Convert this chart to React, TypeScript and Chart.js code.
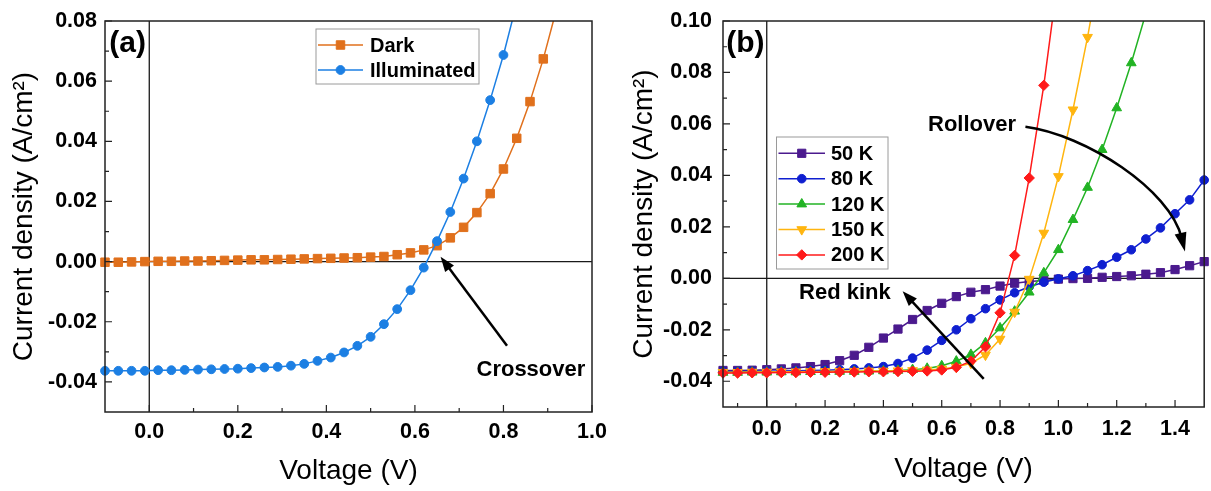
import React, { useEffect, useRef } from 'react';
import { Chart, registerables } from 'chart.js';
import { drawPoint } from 'chart.js/helpers';

Chart.register(...registerables);

const FONT = "'Liberation Sans', Arial, Helvetica, sans-serif";

// ---------- Panel (a): dark vs. illuminated J-V ----------
const voltageA = [
  -0.1, -0.07, -0.04, -0.01, 0.02, 0.05, 0.08, 0.11, 0.14, 0.17, 0.2, 0.23, 0.26, 0.29, 0.32, 0.35, 0.38,
  0.41, 0.44, 0.47, 0.5, 0.53, 0.56, 0.59, 0.62, 0.65, 0.68, 0.71, 0.74, 0.77, 0.8, 0.83, 0.86, 0.89, 0.92,
];
const darkJ = [
  -0.0002, -0.0002, -0.0001, 0.0, 0.0001, 0.0001, 0.0002, 0.0002, 0.0003, 0.0004, 0.0005, 0.0006, 0.0006,
  0.0007, 0.0008, 0.0009, 0.001, 0.0011, 0.0012, 0.0013, 0.0015, 0.0017, 0.0023, 0.0029, 0.0039, 0.0053,
  0.0079, 0.0114, 0.0163, 0.0226, 0.0308, 0.041, 0.0532, 0.0674, 0.084,
];
const illuminatedJ = [
  -0.0363, -0.0363, -0.0363, -0.0363, -0.0361, -0.0361, -0.036, -0.0359, -0.0358, -0.0357, -0.0356, -0.0354,
  -0.0352, -0.035, -0.0346, -0.034, -0.033, -0.0319, -0.0302, -0.028, -0.025, -0.0208, -0.0158, -0.0095,
  -0.002, 0.0068, 0.0165, 0.0276, 0.04, 0.0537, 0.0687, 0.086,
];
const xMajorA = [0, 0.2, 0.4, 0.6, 0.8, 1.0];
const xMinorA = [0.1, 0.3, 0.5, 0.7, 0.9];
const yMajorA = [-0.04, -0.02, 0, 0.02, 0.04, 0.06, 0.08];
const yMinorA = [-0.03, -0.01, 0.01, 0.03, 0.05, 0.07];

// ---------- Panel (b): illuminated J-V vs. temperature ----------
const voltageB = [
  -0.15, -0.1, -0.05, 0.0, 0.05, 0.1, 0.15, 0.2, 0.25, 0.3, 0.35, 0.4, 0.45, 0.5, 0.55, 0.6, 0.65, 0.7,
  0.75, 0.8, 0.85, 0.9, 0.95, 1.0, 1.05, 1.1, 1.15, 1.2, 1.25, 1.3, 1.35, 1.4, 1.45, 1.5,
];
const j50K = [
  -0.0358, -0.0358, -0.0357, -0.0355, -0.0352, -0.0348, -0.0343, -0.0335, -0.032, -0.0299, -0.0268, -0.0232,
  -0.0197, -0.016, -0.0125, -0.0097, -0.0071, -0.0054, -0.0044, -0.003, -0.0019, -0.0012, -0.0008, -0.0003,
  -0.0001, 0.0, 0.0004, 0.0007, 0.001, 0.0016, 0.0022, 0.0034, 0.0049, 0.0065,
];
const j80K = [
  -0.0362, -0.0362, -0.0361, -0.0361, -0.036, -0.0359, -0.0358, -0.0357, -0.0355, -0.0352, -0.0348, -0.0343,
  -0.0331, -0.031, -0.0279, -0.0241, -0.02, -0.0157, -0.0118, -0.0084, -0.0056, -0.0033, -0.0015, -0.0002,
  0.001, 0.003, 0.0053, 0.0082, 0.0111, 0.0153, 0.0196, 0.0251, 0.0305, 0.0382,
];
const j120K = [
  -0.0366, -0.0366, -0.0365, -0.0365, -0.0364, -0.0364, -0.0363, -0.0363, -0.0362, -0.0362, -0.0361, -0.036,
  -0.0358, -0.0355, -0.035, -0.034, -0.0322, -0.0296, -0.0251, -0.0193, -0.0128, -0.0054, 0.0021, 0.0111,
  0.0228, 0.0353, 0.05, 0.0662, 0.0837, 0.103,
];
const j150K = [
  -0.0365, -0.0365, -0.0364, -0.0364, -0.0363, -0.0363, -0.0362, -0.0362, -0.0361, -0.0361, -0.036, -0.036,
  -0.0359, -0.0358, -0.0356, -0.0352, -0.0345, -0.033, -0.0298, -0.0236, -0.0131, -0.0003, 0.0176, 0.0396,
  0.0655, 0.0937, 0.125,
];
const j200K = [
  -0.0368, -0.0368, -0.0367, -0.0367, -0.0366, -0.0366, -0.0365, -0.0365, -0.0364, -0.0364, -0.0363, -0.0363,
  -0.0362, -0.0361, -0.036, -0.0356, -0.0346, -0.0322, -0.0266, -0.0134, 0.0089, 0.039, 0.075, 0.118,
];
const xMajorB = [0, 0.2, 0.4, 0.6, 0.8, 1.0, 1.2, 1.4];
const xMinorB = [-0.1, 0.1, 0.3, 0.5, 0.7, 0.9, 1.1, 1.3];
const yMajorB = [-0.04, -0.02, 0, 0.02, 0.04, 0.06, 0.08, 0.1];
const yMinorB = [-0.03, -0.01, 0.01, 0.03, 0.05, 0.07, 0.09];

type SeriesSpec = {
  label: string;
  xs: number[];
  ys: number[];
  color: string;
  style: string;
  radius: number;
  rotation?: number;
  order: number;
};

type Note = { text: string; x: number; y: number; align: CanvasTextAlign; size: number };
type Arrow = { from: [number, number]; to: [number, number]; c1?: [number, number]; c2?: [number, number] };

type PanelSpec = {
  left: number;
  width: number;
  height: number;
  area: { left: number; right: number; top: number; bottom: number };
  x: [number, number];
  y: [number, number];
  xMajor: number[];
  xMinor: number[];
  yMajor: number[];
  yMinor: number[];
  xPad: number;
  yPad: number;
  xTitlePad: number;
  yTitlePad: number;
  series: SeriesSpec[];
  notes: Note[];
  arrows: Arrow[];
  legend: { x: number; y: number; w: number; h: number; s0: number; s1: number; textX: number; row0: number; step: number };
};

const panelA: PanelSpec = {
  left: 0,
  width: 625,
  height: 491,
  area: { left: 105, right: 592, top: 21, bottom: 412 },
  x: [-0.1, 1.0],
  y: [-0.05, 0.08],
  xMajor: xMajorA,
  xMinor: xMinorA,
  yMajor: yMajorA,
  yMinor: yMinorA,
  xPad: 7.5,
  yPad: 8,
  xTitlePad: 3,
  yTitlePad: 7,
  series: [
    { label: 'Dark', xs: voltageA, ys: darkJ, color: '#E0701C', style: 'rect', radius: 6, order: 1 },
    { label: 'Illuminated', xs: voltageA, ys: illuminatedJ, color: '#1C7FE3', style: 'circle', radius: 4.4, order: 0 },
  ],
  notes: [
    { text: '(a)', x: -0.0905, y: 0.0723, align: 'left', size: 30 },
    { text: 'Crossover', x: 0.862, y: -0.036, align: 'center', size: 22 },
  ],
  arrows: [{ from: [0.808, -0.028], to: [0.658, 0.0016] }],
  legend: { x: 316, y: 29, w: 163, h: 55, s0: 318, s1: 363, textX: 370, row0: 45, step: 25 },
};

const panelB: PanelSpec = {
  left: 605,
  width: 606,
  height: 491,
  area: { left: 118, right: 604, top: 21, bottom: 407 },
  x: [-0.15, 1.5],
  y: [-0.05, 0.1],
  xMajor: xMajorB,
  xMinor: xMinorB,
  yMajor: yMajorB,
  yMinor: yMinorB,
  xPad: 9,
  yPad: 11,
  xTitlePad: 5,
  yTitlePad: 22,
  series: [
    { label: '50 K', xs: voltageB, ys: j50K, color: '#4B1A8E', style: 'rect', radius: 5.8, order: 4 },
    { label: '80 K', xs: voltageB, ys: j80K, color: '#0F1FD0', style: 'circle', radius: 4.3, order: 3 },
    { label: '120 K', xs: voltageB, ys: j120K, color: '#22B324', style: 'triangle', radius: 5.6, order: 2 },
    { label: '150 K', xs: voltageB, ys: j150K, color: '#FFB50F', style: 'triangle', radius: 5.6, rotation: 180, order: 1 },
    { label: '200 K', xs: voltageB, ys: j200K, color: '#FF1A1A', style: 'rectRot', radius: 5.2, order: 0 },
  ],
  notes: [
    { text: '(b)', x: -0.139, y: 0.0911, align: 'left', size: 30 },
    { text: 'Rollover', x: 0.704, y: 0.0597, align: 'center', size: 22 },
    { text: 'Red kink', x: 0.268, y: -0.0057, align: 'center', size: 22 },
  ],
  arrows: [
    { from: [0.887, 0.0589], c1: [1.094, 0.0558], c2: [1.383, 0.0344], to: [1.434, 0.0104] },
    { from: [0.744, -0.0391], to: [0.466, -0.005] },
  ],
  legend: { x: 171.5, y: 137, w: 111.5, h: 132, s0: 173.5, s1: 220, textX: 226, row0: 153.3, step: 25.4 },
};

function arrowHead(ctx: CanvasRenderingContext2D, tx: number, ty: number, dx: number, dy: number, len: number, half: number) {
  const n = Math.hypot(dx, dy) || 1;
  const ux = dx / n;
  const uy = dy / n;
  const bx = tx - ux * len;
  const by = ty - uy * len;
  ctx.beginPath();
  ctx.moveTo(tx, ty);
  ctx.lineTo(bx - uy * half, by + ux * half);
  ctx.lineTo(bx + uy * half, by - ux * half);
  ctx.closePath();
  ctx.fill();
}

function decorPlugin(spec: PanelSpec) {
  return {
    id: 'decor',
    beforeDatasetsDraw(chart: any) {
      const { ctx, chartArea: a, scales } = chart;
      const x0 = scales.x.getPixelForValue(0);
      const y0 = scales.y.getPixelForValue(0);
      ctx.save();
      ctx.strokeStyle = '#1a1a1a';
      ctx.lineWidth = 1.3;
      ctx.beginPath();
      ctx.moveTo(a.left, y0);
      ctx.lineTo(a.right, y0);
      ctx.moveTo(x0, a.top);
      ctx.lineTo(x0, a.bottom);
      ctx.stroke();
      ctx.restore();
    },
    afterDatasetsDraw(chart: any) {
      const { ctx, chartArea: a, scales } = chart;
      const px = (v: number) => scales.x.getPixelForValue(v);
      const py = (v: number) => scales.y.getPixelForValue(v);
      ctx.save();

      // frame
      ctx.strokeStyle = '#222';
      ctx.lineWidth = 1.5;
      ctx.strokeRect(a.left, a.top, a.right - a.left, a.bottom - a.top);

      // inward ticks on bottom and left axes
      ctx.lineWidth = 1.2;
      ctx.beginPath();
      spec.xMajor.forEach((v) => { ctx.moveTo(px(v), a.bottom); ctx.lineTo(px(v), a.bottom - 7); });
      spec.xMinor.forEach((v) => { ctx.moveTo(px(v), a.bottom); ctx.lineTo(px(v), a.bottom - 4); });
      spec.yMajor.forEach((v) => { ctx.moveTo(a.left, py(v)); ctx.lineTo(a.left + 7, py(v)); });
      spec.yMinor.forEach((v) => { ctx.moveTo(a.left, py(v)); ctx.lineTo(a.left + 4, py(v)); });
      ctx.stroke();

      // legend
      const L = spec.legend;
      ctx.fillStyle = '#fff';
      ctx.fillRect(L.x, L.y, L.w, L.h);
      ctx.strokeStyle = '#9a9a9a';
      ctx.lineWidth = 1;
      ctx.strokeRect(L.x, L.y, L.w, L.h);
      spec.series.forEach((s, i) => {
        const yy = L.row0 + i * L.step;
        ctx.strokeStyle = s.color;
        ctx.fillStyle = s.color;
        ctx.lineWidth = 1.5;
        ctx.beginPath();
        ctx.moveTo(L.s0, yy);
        ctx.lineTo(L.s1, yy);
        ctx.stroke();
        ctx.lineWidth = 1;
        drawPoint(ctx, { pointStyle: s.style as any, rotation: s.rotation || 0, radius: s.radius, borderWidth: 1 } as any, (L.s0 + L.s1) / 2, yy);
        ctx.fillStyle = '#000';
        ctx.font = `bold 20px ${FONT}`;
        ctx.textAlign = 'left';
        ctx.textBaseline = 'middle';
        ctx.fillText(s.label, L.textX, yy + 1);
      });

      // annotations
      ctx.fillStyle = '#000';
      ctx.strokeStyle = '#000';
      ctx.textBaseline = 'middle';
      spec.notes.forEach((n) => {
        ctx.font = `bold ${n.size}px ${FONT}`;
        ctx.textAlign = n.align;
        ctx.fillText(n.text, px(n.x), py(n.y));
      });
      ctx.lineWidth = 2.5;
      spec.arrows.forEach((ar) => {
        const sx = px(ar.from[0]);
        const sy = py(ar.from[1]);
        const tx = px(ar.to[0]);
        const ty = py(ar.to[1]);
        if (ar.c1 && ar.c2) {
          const c1x = px(ar.c1[0]);
          const c1y = py(ar.c1[1]);
          const c2x = px(ar.c2[0]);
          const c2y = py(ar.c2[1]);
          const dx = tx - c2x;
          const dy = ty - c2y;
          const n = Math.hypot(dx, dy);
          ctx.beginPath();
          ctx.moveTo(sx, sy);
          ctx.bezierCurveTo(c1x, c1y, c2x, c2y, tx - (dx / n) * 14, ty - (dy / n) * 14);
          ctx.stroke();
          arrowHead(ctx, tx, ty, dx, dy, 19, 6);
        } else {
          const dx = tx - sx;
          const dy = ty - sy;
          const n = Math.hypot(dx, dy);
          ctx.beginPath();
          ctx.moveTo(sx, sy);
          ctx.lineTo(tx - (dx / n) * 10, ty - (dy / n) * 10);
          ctx.stroke();
          arrowHead(ctx, tx, ty, dx, dy, 15, 5.5);
        }
      });
      ctx.restore();
    },
  };
}

function buildConfig(spec: PanelSpec): any {
  const tickFont = { family: FONT, size: 21.5, weight: 'bold' as const };
  const titleFont = { family: FONT, size: 28, weight: 'normal' as const };
  const xHeight = spec.height - spec.area.bottom;
  return {
    type: 'line',
    data: {
      datasets: spec.series.map((s) => ({
        label: s.label,
        data: s.ys.map((y, i) => ({ x: s.xs[i], y })),
        borderColor: s.color,
        backgroundColor: s.color,
        borderWidth: 1.5,
        tension: 0,
        pointStyle: s.style,
        pointRadius: s.radius,
        pointRotation: s.rotation || 0,
        pointBackgroundColor: s.color,
        pointBorderColor: s.color,
        pointBorderWidth: 1,
        clip: { left: 8, right: 8, top: 0, bottom: 0 },
        order: s.order,
      })),
    },
    options: {
      responsive: false,
      maintainAspectRatio: false,
      animation: false,
      events: [],
      layout: { padding: { left: 0, top: spec.area.top, right: spec.width - spec.area.right, bottom: 0 } },
      plugins: { legend: { display: false }, tooltip: { enabled: false } },
      scales: {
        x: {
          type: 'linear',
          min: spec.x[0],
          max: spec.x[1],
          afterBuildTicks: (sc: any) => { sc.ticks = spec.xMajor.map((v) => ({ value: v })); },
          afterFit: (sc: any) => {
            sc.height = xHeight;
            sc.paddingLeft = 0;
            sc.paddingRight = 0;
          },
          grid: { display: false, drawTicks: false },
          border: { display: false },
          ticks: {
            autoSkip: false,
            maxRotation: 0,
            minRotation: 0,
            padding: spec.xPad,
            color: '#000',
            font: tickFont,
            callback: (v: any) => Number(v).toFixed(1),
          },
          title: { display: true, text: 'Voltage (V)', color: '#000', font: titleFont, padding: { top: 0, bottom: spec.xTitlePad } },
        },
        y: {
          type: 'linear',
          min: spec.y[0],
          max: spec.y[1],
          afterBuildTicks: (sc: any) => { sc.ticks = spec.yMajor.map((v) => ({ value: v })); },
          afterFit: (sc: any) => {
            sc.width = spec.area.left;
            sc.paddingTop = 0;
            sc.paddingBottom = 0;
          },
          grid: { display: false, drawTicks: false },
          border: { display: false },
          ticks: {
            autoSkip: false,
            padding: spec.yPad,
            color: '#000',
            font: tickFont,
            callback: (v: any) => Number(v).toFixed(2),
          },
          title: {
            display: true,
            text: 'Current density (A/cm²)',
            color: '#000',
            font: titleFont,
            padding: { top: spec.yTitlePad, bottom: 0 },
          },
        },
      },
    },
    plugins: [decorPlugin(spec)],
  };
}

function Panel({ spec }: { spec: PanelSpec }) {
  const ref = useRef<HTMLCanvasElement>(null);
  useEffect(() => {
    const chart = new Chart(ref.current as HTMLCanvasElement, buildConfig(spec));
    return () => chart.destroy();
  }, [spec]);
  return (
    <canvas
      ref={ref}
      width={spec.width}
      height={spec.height}
      style={{ position: 'absolute', left: spec.left, top: 0, width: spec.width, height: spec.height }}
    />
  );
}

export default function App() {
  return (
    <div style={{ position: 'absolute', left: 0, top: 0, width: 1211, height: 491, background: '#fff' }}>
      <Panel spec={panelA} />
      <Panel spec={panelB} />
    </div>
  );
}
